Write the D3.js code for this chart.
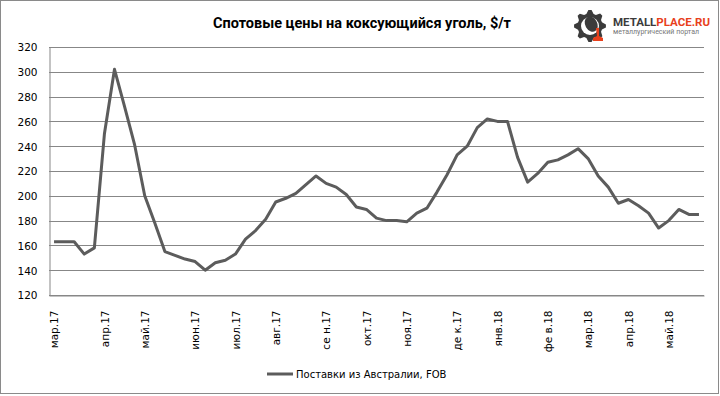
<!DOCTYPE html>
<html>
<head>
<meta charset="utf-8">
<script src="https://cdn.jsdelivr.net/npm/d3@7"></script>
<style>
  body { margin: 0; background: #fff; }
  svg { display: block; }
</style>
</head>
<body>
<div id="chart"></div>
<script>
// weekly spot prices, Australia FOB, $/t (mar.17 .. may.18)
const prices = [
  163, 163, 163, 153, 158, 250, 302, 272, 241, 200,
  178, 155, 152, 149, 147, 140, 146, 148, 153, 165,
  172, 181, 195, 198, 202, 209, 216, 210, 207, 201,
  191, 189, 182, 180, 180, 179, 186, 190, 203, 217,
  233, 240, 255, 262, 260, 260, 231, 211, 218, 227,
  229, 233, 238, 230, 216, 207, 194, 197, 192, 186,
  174, 180, 189, 185, 185
];
// first week of each month -> label
const monthLabels = ["мар.17", "апр.17", "май.17", "июн.17", "июл.17", "авг.17", "се н.17", "окт.17",
  "ноя.17", "де к.17", "янв.18", "фе в.18", "мар.18", "апр.18", "май.18"];
const monthWeek = [0, 5, 9, 14, 18, 22, 27, 31, 35, 40, 44, 49, 53, 57, 61];
const yTicks = [120, 140, 160, 180, 200, 220, 240, 260, 280, 300, 320];

const title = "Спотовые цены на коксующийся уголь, $/т";
const seriesName = "Поставки из Австралии, FOB";

const W = 720, H = 396;
const m = {left: 49, right: 704, top: 47, bottom: 295};

const svg = d3.select("#chart").append("svg")
  .attr("width", W)
  .attr("height", H)
  .style("font-family", "'DejaVu Sans', Verdana, sans-serif");

// outer frame
svg.append("rect")
  .attr("x", 0.5).attr("y", 0.5)
  .attr("width", 718).attr("height", 393)
  .attr("fill", "#fff")
  .attr("stroke", "#8a8a8a");

const x = d3.scalePoint()
  .domain(d3.range(prices.length))
  .range([m.left, m.right])
  .padding(0.5);

const y = d3.scaleLinear()
  .domain([120, 320])
  .range([m.bottom, m.top]);

// grid
svg.append("g")
  .selectAll("line")
  .data(yTicks)
  .join("line")
    .attr("x1", m.left)
    .attr("x2", m.right)
    .attr("y1", d => Math.round(y(d)) + 0.5)
    .attr("y2", d => Math.round(y(d)) + 0.5)
    .attr("stroke", "#878787")
    .attr("stroke-width", 1);

// y axis
const yAxis = svg.append("g")
  .attr("transform", `translate(${m.left + 0.5},0.5)`)
  .call(d3.axisLeft(y).tickValues(yTicks).tickSize(0).tickPadding(12));
yAxis.select(".domain").attr("stroke", "#878787");
yAxis.selectAll("text")
  .attr("font-size", "10.5px")
  .attr("fill", "#000")
  .attr("font-family", "'DejaVu Sans', Verdana, sans-serif");

// x axis: labels only at month starts
const xAxis = svg.append("g")
  .attr("transform", `translate(0,${Math.round(y(120)) + 0.5})`)
  .call(d3.axisBottom(x).tickValues(monthWeek).tickSize(0)
    .tickFormat((d, i) => monthLabels[i]));
xAxis.select(".domain").attr("stroke", "#878787");
xAxis.selectAll("text")
  .attr("font-size", "10.5px")
  .attr("fill", "#000")
  .attr("font-family", "'DejaVu Sans', Verdana, sans-serif")
  .attr("text-anchor", "end")
  .attr("dy", "0.35em")
  .attr("transform", "translate(0,15) rotate(-90)")
  .attr("x", 0).attr("y", 0);

// series line
const line = d3.line()
  .x((d, i) => x(i))
  .y(d => y(d));

svg.append("path")
  .datum(prices)
  .attr("fill", "none")
  .attr("stroke", "#5c5c5c")
  .attr("stroke-width", 3)
  .attr("stroke-linejoin", "round")
  .attr("d", line);

// title
svg.append("text")
  .attr("x", 362)
  .attr("y", 28)
  .attr("text-anchor", "middle")
  .attr("font-family", "Roboto, 'Open Sans', sans-serif")
  .attr("font-weight", "bold")
  .attr("font-size", "14.5px")
  .text(title);

// legend
const lg = svg.append("g").attr("transform", "translate(267,374)");
lg.append("line")
  .attr("x1", 0).attr("x2", 26)
  .attr("stroke", "#5c5c5c")
  .attr("stroke-width", 3);
lg.append("text")
  .attr("x", 29)
  .attr("dy", "0.35em")
  .attr("font-size", "10px")
  .text(seriesName);

// logo
const logo = svg.append("g").attr("transform", "translate(590,26)");
const teeth = 8, rOut = 16, rIn = 12.5;
const gearPts = [];
for (let i = 0; i < teeth * 4; i++) {
  const a = (i / (teeth * 4)) * 2 * Math.PI;
  const r = (i % 4 < 2) ? rOut : rIn;
  gearPts.push([r * Math.cos(a - 0.1), r * Math.sin(a - 0.1)]);
}
logo.append("path")
  .attr("d", d3.line().curve(d3.curveLinearClosed)(gearPts))
  .attr("fill", "#3b3b3b");
logo.append("circle").attr("r", 9).attr("fill", "#fff");
logo.append("ellipse")
  .attr("cx", 2).attr("cy", -1)
  .attr("rx", 6).attr("ry", 8)
  .attr("transform", "rotate(-30)")
  .attr("fill", "#3b3b3b");
logo.append("path")
  .attr("d", "M6,2 L9,2 L9,10 L13,12 L13,15 L3,15 L3,12 L7,10 Z")
  .attr("fill", "#e8401c");

const lt = svg.append("text")
  .attr("x", 613)
  .attr("y", 26)
  .attr("font-family", "Roboto, sans-serif")
  .attr("font-weight", "bold")
  .attr("font-size", "11.5px");
lt.append("tspan").attr("fill", "#3b3b3b").text("METALL");
lt.append("tspan").attr("fill", "#e8401c").text("PLACE.RU");

svg.append("text")
  .attr("x", 613)
  .attr("y", 33.5)
  .attr("font-family", "Roboto, sans-serif")
  .attr("font-size", "7px")
  .attr("fill", "#777")
  .attr("textLength", 86)
  .text("металлургический портал");
</script>
</body>
</html>
